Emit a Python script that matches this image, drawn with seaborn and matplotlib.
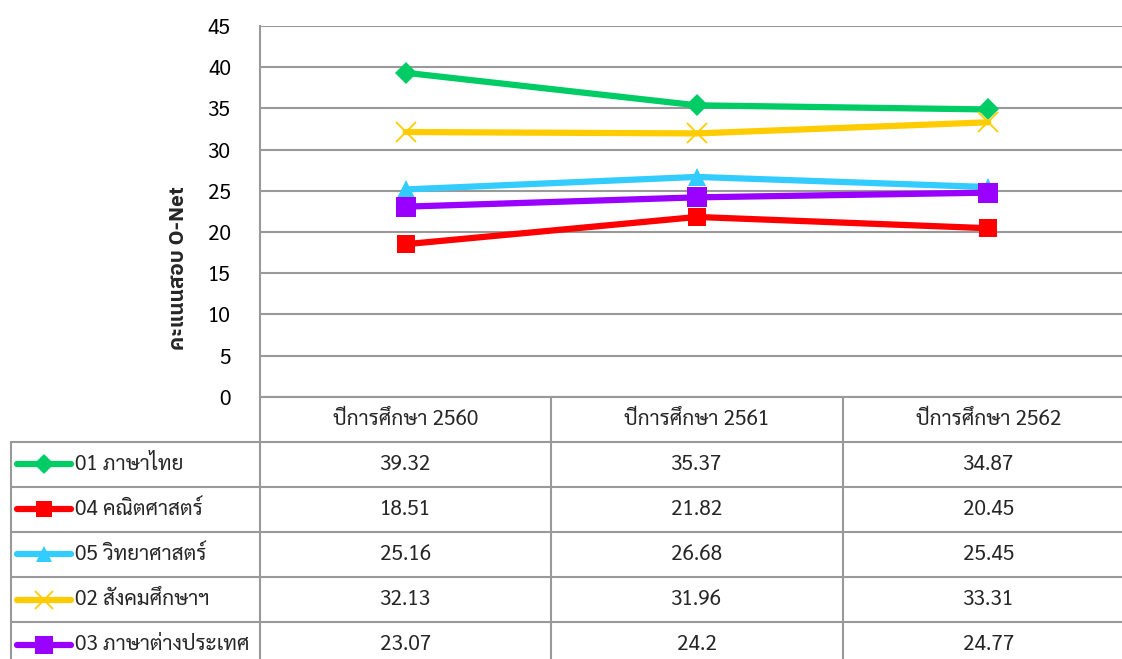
import matplotlib
matplotlib.use("Agg")
import matplotlib.pyplot as plt
import seaborn as sns
import pandas as pd

# ---------------- data ----------------
years = ["ปีการศึกษา 2560", "ปีการศึกษา 2561", "ปีการศึกษา 2562"]
subjects = ["01 ภาษาไทย", "04 คณิตศาสตร์", "05 วิทยาศาสตร์", "02 สังคมศึกษาฯ", "03 ภาษาต่างประเทศ"]
thai = [39.32, 35.37, 34.87]
math = [18.51, 21.82, 20.45]
science = [25.16, 26.68, 25.45]
social = [32.13, 31.96, 33.31]
foreign = [23.07, 24.2, 24.77]
series_values = [thai, math, science, social, foreign]
yticks = [0, 5, 10, 15, 20, 25, 30, 35, 40, 45]
ylabel = "คะแนนสอบ O-Net"

# ---------------- styles ----------------
colors = ["#00CC66", "#FF0000", "#33CCFF", "#FFCC00", "#9900FF"]
markers = ["D", "s", "^", "x", "s"]
msizes = [11.5, 13, 13.5, 14, 14]
mews = [0, 0, 0, 1.3, 0]

sns.set_theme(style="white")
FONT = ["Sarabun", "DejaVu Sans"]
plt.rcParams["font.family"] = FONT
FS = 15

W, H = 1122, 659
fig = plt.figure(figsize=(W / 100, H / 100), dpi=100)

# layout in pixels
ax_left, ax_right = 260, 1122
y0_px, y45_px = 396.7, 26.0
col_w = 291.3
row_tops = [396.7, 441.7, 486.8, 531.9, 577.0, 622.1, 667.2]
leg_left = 11
grid_col = "#999999"

ax = fig.add_axes([ax_left / W, (H - y0_px) / H, (ax_right - ax_left) / W, (y0_px - y45_px) / H])

# long-form frame
rows = []
for s, vals in zip(subjects, series_values):
    for i, (yr, v) in enumerate(zip(years, vals)):
        rows.append({"subject": s, "pos": i, "year": yr, "score": v})
df = pd.DataFrame(rows)

for k, s in enumerate(subjects):
    d = df[df["subject"] == s]
    sns.lineplot(data=d, x="pos", y="score", ax=ax, color=colors[k], linewidth=4.5,
                 marker=markers[k], markersize=msizes[k], markeredgewidth=mews[k],
                 markeredgecolor=colors[k], markerfacecolor=colors[k], legend=False,
                 zorder=3 + k, clip_on=False)

x_right = (ax_right - ax_left) / col_w - 0.5
ax.set_xlim(-0.5, x_right)
ax.set_ylim(0, 45)
ax.set_yticks(yticks)
ax.set_xticks([])
ax.set_xlabel("")
ax.set_ylabel(ylabel, fontsize=15, fontweight="bold",
              family=["IBM Plex Sans Thai", "DejaVu Sans"])
ax.yaxis.set_label_coords((188 - ax_left) / (ax_right - ax_left), (y0_px - 268) / (y0_px - y45_px))
ax.tick_params(axis="y", length=0, pad=21, labelsize=FS, colors="#000000")
for lab in ax.get_yticklabels():
    lab.set_family(FONT)
ax.yaxis.grid(True, color=grid_col, linewidth=1.5)
ax.set_axisbelow(True)
for sp in ["top", "right", "bottom"]:
    ax.spines[sp].set_visible(False)
ax.spines["left"].set_color(grid_col)
ax.spines["left"].set_linewidth(1.5)
ax.patch.set_alpha(0)

# ---------------- data table ----------------
tab = fig.add_axes([0, 0, 1, 1], zorder=-1)
tab.set_xlim(0, W)
tab.set_ylim(H, 0)
tab.axis("off")

col_edges = [ax_left + i * col_w for i in range(len(years) + 1)]
# horizontal lines
tab.plot([ax_left, W], [row_tops[0]] * 2, color=grid_col, lw=1.5)
for yv in row_tops[1:6]:
    tab.plot([leg_left, W], [yv, yv], color=grid_col, lw=1.5)
# vertical lines
for xv in col_edges[:3]:
    tab.plot([xv, xv], [row_tops[0], H], color=grid_col, lw=1.5)
tab.plot([leg_left, leg_left], [row_tops[1], H], color=grid_col, lw=1.5)

# header
for i, yr in enumerate(years):
    tab.text(col_edges[i] + col_w / 2, (row_tops[0] + row_tops[1]) / 2, yr,
             ha="center", va="center", fontsize=FS)

# rows
for k, (s, vals) in enumerate(zip(subjects, series_values)):
    yc = (row_tops[k + 1] + row_tops[k + 2]) / 2
    tab.plot([17, 71], [yc, yc], color=colors[k], lw=4.5, solid_capstyle="round")
    tab.plot([44], [yc], marker=markers[k], markersize=msizes[k] * 0.9,
             markeredgewidth=mews[k], color=colors[k], markerfacecolor=colors[k],
             markeredgecolor=colors[k], linestyle="none")
    tab.text(75, yc, s, ha="left", va="center", fontsize=FS)
    for i, v in enumerate(vals):
        tab.text(col_edges[i] + col_w / 2, yc, f"{v:g}", ha="center", va="center", fontsize=FS)

fig.savefig("out.png", dpi=100, facecolor="white")
